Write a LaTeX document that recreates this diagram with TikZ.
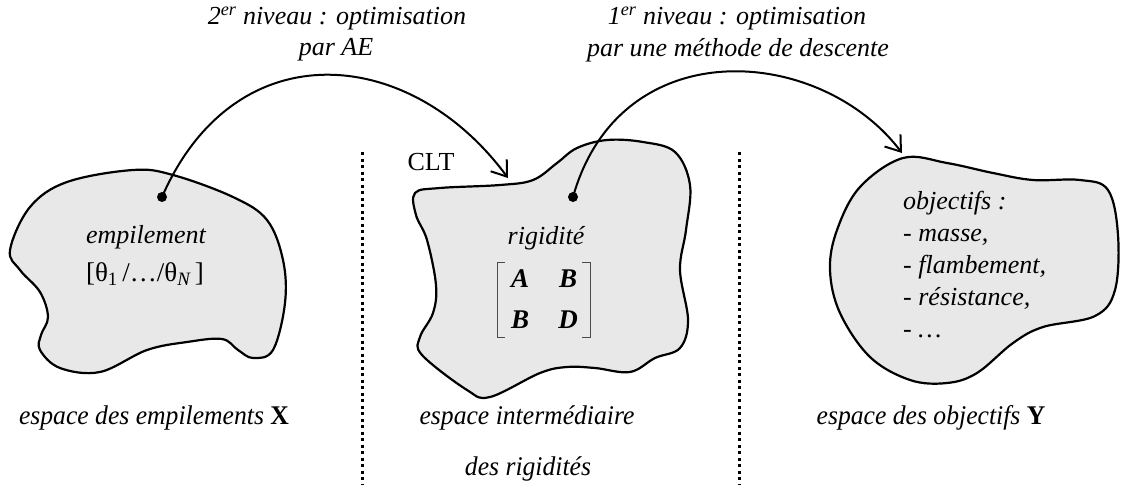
\documentclass[tikz,border=0pt]{standalone}
\usepackage{fontspec}
\setmainfont{Liberation Serif}
\usetikzlibrary{arrows.meta}
\definecolor{blobfill}{HTML}{E8E8E8}
\begin{document}
\begin{tikzpicture}[x=1pt,y=-1pt,
  blob/.style={draw=black,line width=2.2pt,fill=blobfill},
  lbl/.style={font=\fontsize{26}{30}\selectfont\itshape,inner sep=0pt,align=center},
  mat/.style={font=\fontsize{27}{30}\selectfont\bfseries\itshape,inner sep=0pt},
  botlbl/.style={font=\fontsize{27}{30}\selectfont\itshape,inner sep=0pt,align=center,xscale=0.95},
  conn/.style={line width=2pt,-{Straight Barb[length=14pt,width=20pt,line width=2pt]}},
  sep/.style={line width=3pt,dash pattern=on 3pt off 3.5pt},
  dotmark/.style={fill=black}]
\useasboundingbox (0,0) rectangle (1124,485);
% separators
\draw[sep] (362,152) -- (362,485);
\draw[sep] (739,152) -- (739,485);
% blob X
\draw[blob] plot[smooth cycle,tension=0.6] coordinates {
 (10,250) (30,207) (67,182) (133,170) (173,175) (233,197) (267,220) (283,260)
 (285,303) (273,350) (253,358) (238,350) (222,339) (187,342) (147,350) (100,372)
 (60,368) (40,350) (41,335) (48,317) (40,292) (20,270)};
% blob middle
\draw[blob] plot[smooth cycle,tension=0.6] coordinates {
 (415,193) (440,188) (500,185) (533,180) (557,163) (577,148) (607,140) (643,142)
 (675,152) (690,185) (686,230) (680,270) (688,320) (680,348) (655,358) (630,372)
 (595,368) (567,367) (540,373) (490,397) (467,390) (422,355) (420,337) (433,313)
 (436,285) (427,240) (416,215)};
% blob Y
\draw[blob] plot[smooth cycle,tension=0.6] coordinates {
 (903,158) (947,163) (993,173) (1033,180) (1080,180) (1108,190) (1118,235) (1115,290)
 (1095,316) (1043,327) (1013,343) (977,373) (947,383) (910,380) (870,357) (840,313)
 (830,270) (837,230) (860,187)};
% texts in blobs
\node[lbl] (emp) at (146,237) {empilement};
\node[lbl,font=\fontsize{27}{30}\selectfont] (theta) at (145,274) {[θ\textsubscript{1}\,/…/θ\textsubscript{\itshape N}\,]};
\node[lbl] (rig) at (546,238) {rigidité};
\node[mat] (mA) at (520,279) {A};
\node[mat] (mB1) at (568,279) {B};
\node[mat] (mB2) at (520,320) {B};
\node[mat] (mD) at (568,320) {D};
\draw[line width=1pt,black!70] (505,262) -- (497,262) -- (497,337) -- (505,337);
\draw[line width=1pt,black!70] (582,262) -- (590,262) -- (590,337) -- (582,337);
\node[lbl,align=left,anchor=north west,font=\fontsize{26}{32}\selectfont\itshape] (obj) at (903,191)
 {objectifs :\\- masse,\\- flambement,\\- résistance,\\- …};
\node[lbl] (clt) at (431,162) {\upshape CLT};
% top labels
\node[lbl] (l2) at (337,18) {2\textsuperscript{er} niveau : optimisation};
\node[lbl] (l2b) at (336,50) {par AE};
\node[lbl] (l1) at (737,18) {1\textsuperscript{er} niveau : optimisation};
\node[lbl] (l1b) at (738,50) {par une méthode de descente};
% bottom labels
\node[botlbl] (bx) at (154,418) {espace des empilements \textbf{\upshape X}};
\node[botlbl] (bm) at (527,418) {espace intermédiaire};
\node[botlbl] (bm2) at (528,469) {des rigidités};
\node[botlbl] (by) at (931,418) {espace des objectifs \textbf{\upshape Y}};
% connectors
\coordinate (d1) at (162,197);
\coordinate (t1) at (508,178);
\coordinate (d2) at (573,197);
\coordinate (t2) at (902,153);
\fill[dotmark] (d1) circle (5);
\fill[dotmark] (d2) circle (5);
\draw[conn] (d1) .. controls (235,30) and (410,45) .. (t1);
\draw[conn] (d2) .. controls (620,30) and (820,45) .. (t2);
\end{tikzpicture}
\end{document}
